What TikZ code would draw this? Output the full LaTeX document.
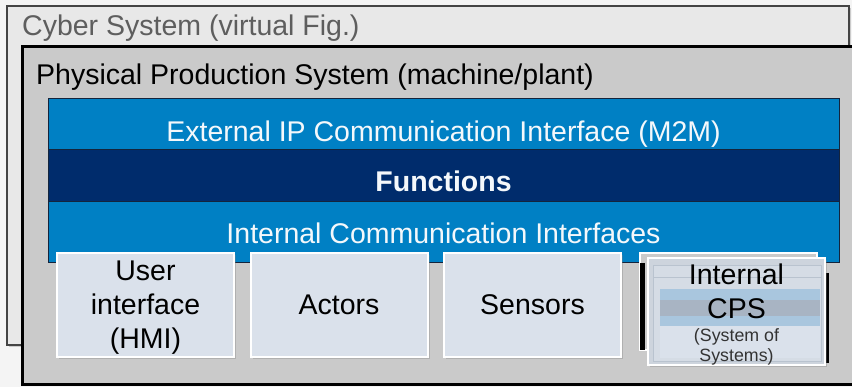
\documentclass[tikz,border=0pt]{standalone}
\usepackage{fontspec}
\setmainfont{Liberation Sans}
\usetikzlibrary{positioning,shadows}
\definecolor{pagegray}{HTML}{F4F4F4}
\definecolor{cyberfill}{HTML}{E8E8E8}
\definecolor{cyberline}{HTML}{444444}
\definecolor{cybertext}{HTML}{5E5E5E}
\definecolor{physgray}{HTML}{CACACA}
\definecolor{ipblue}{HTML}{0080C4}
\definecolor{fnnavy}{HTML}{002C6C}
\definecolor{bandline}{HTML}{14243C}
\definecolor{unitfill}{HTML}{DAE1EB}
\definecolor{cpsfill}{HTML}{CDD4DD}
\definecolor{cpsinner}{HTML}{D5DCE5}
\definecolor{cpsblue}{HTML}{A9C6DE}
\definecolor{cpsslate}{HTML}{A8B4C3}
\definecolor{textwhite}{HTML}{F4F8FB}
\tikzstyle{boxshadow}=[drop shadow={shadow xshift=2pt,shadow yshift=-2pt,opacity=.35}]

\begin{document}
\begin{tikzpicture}[x=1pt,y=-1pt,node distance=16.5pt,
                    font=\fontsize{28.5pt}{34pt}\selectfont,
                    frame node/.style={draw,anchor=north west,inner sep=0pt,outer sep=0pt},
                    band node/.style={frame node,draw=bandline,line width=1pt,minimum width=791pt},
                    band text/.style={anchor=base,inner sep=0pt,text=textwhite},
                    unit node/.style={frame node,draw=white,line width=2pt,fill=unitfill,
                      minimum width=177pt,minimum height=104pt,align=center,boxshadow}]
\useasboundingbox[fill=pagegray] (0,0) rectangle (852,387);
\clip (0,0) rectangle (852,387);

% outer frames
\node[frame node,fill=cyberfill,draw=cyberline,line width=1.5pt,boxshadow,
      minimum width=842pt,minimum height=339pt] (cyber) at (7,6) {};
\node[anchor=base west,inner sep=0pt,text=cybertext] (cyberlbl) at (22,36) {Cyber System (virtual Fig.)};
\node[frame node,fill=physgray,draw=none,
      minimum width=845pt,minimum height=338pt] (phys) at (22,47) {};
\draw[black,line width=3pt] (phys.north east) -- (phys.north west) -- (phys.south west) -- (phys.south east);
\fill[physgray] (842,49) rectangle (852,383);
\node[anchor=base west,inner sep=0pt] (physlbl) at (36,85) {Physical Production System (machine/plant)};

% interface and function layers
\node[band node,fill=ipblue,minimum height=51pt] (ext) at (48,99) {};
\node[band node,fill=fnnavy,minimum height=52pt] (fun) [below=0pt of ext] {};
\node[band node,fill=ipblue,minimum height=61pt] (int) [below=0pt of fun] {};
\node[band text] at ([yshift=8pt]ext.south) {External IP Communication Interface (M2M)};
\node[band text,font=\fontsize{28.5pt}{34pt}\selectfont\bfseries] at ([yshift=10pt]fun.south) {Functions};
\node[band text] at ([yshift=19pt]int.south) {Internal Communication Interfaces};

% units
\node[unit node,text depth=0pt] (ui) at (57,253) {User\\interface\\(HMI)};
\node[unit node] (act) [right=of ui] {\raisebox{-2pt}{Actors}};
\node[unit node] (sen) [right=of act] {\raisebox{-2pt}{Sensors}};

% internal CPS (stacked cards)
\node[frame node,draw=white,line width=1.5pt,fill=physgray,
      minimum width=177pt,minimum height=97pt,right=19pt of sen.north east,anchor=north west] (cpsback) {};
\fill[black] (640,263) rectangle (645,350);
\fill[black] (826,273) rectangle (829,363);
\node[frame node,draw=white,line width=2pt,fill=cpsfill,boxshadow,
      minimum width=177pt,minimum height=107pt] (cpsfront) at ([xshift=8pt,yshift=-5pt]cpsback.north west) {};
\draw[cpsslate!80,fill=cpsinner] (653,265) rectangle (821,361);
\draw[cpsslate!80] (653,277) -- (821,277);
\fill[cpsblue] (660,289) rectangle (820,300);
\fill[cpsslate] (660,300) rectangle (820,316);
\fill[cpsblue] (660,316) rectangle (820,326);
\fill[unitfill] (660,326) rectangle (820,358);
\node[align=center] (cpsname) at (736.5,291.5) {Internal\\CPS};
\node[align=center,text=black!80,font=\fontsize{17.8pt}{20pt}\selectfont] (cpssub) at (736.5,347) {(System of\\Systems)};
\end{tikzpicture}
\end{document}
